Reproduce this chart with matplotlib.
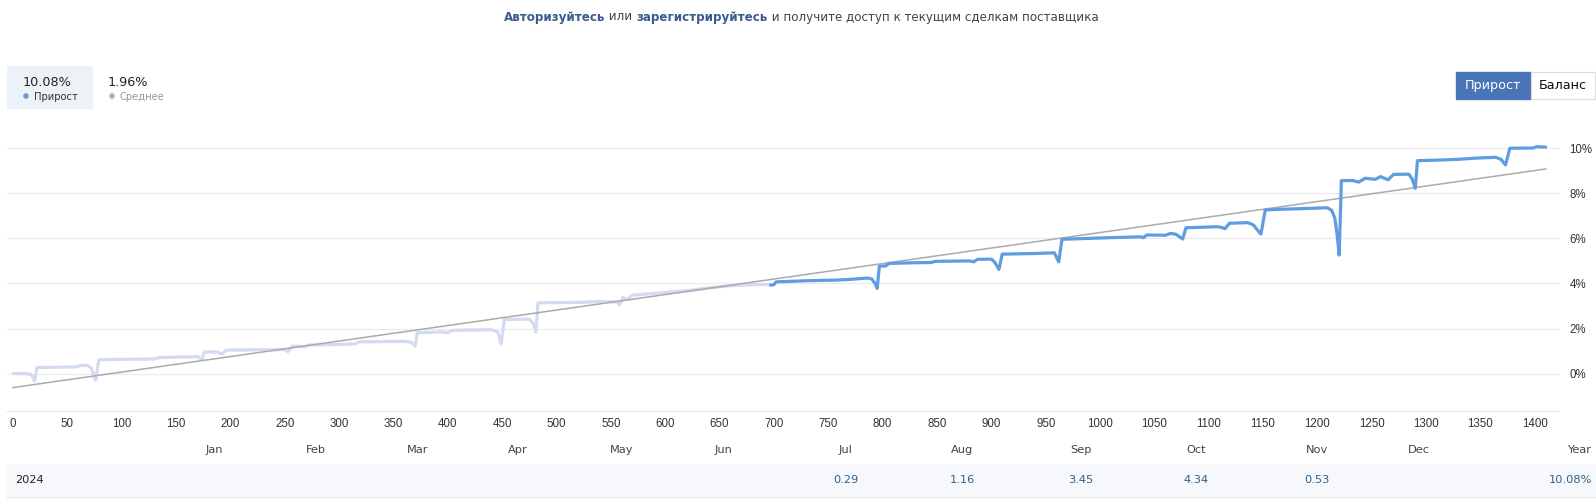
import matplotlib
matplotlib.use("Agg")
import matplotlib.pyplot as plt
from matplotlib.patches import Rectangle, Ellipse

W, H, DPI = 1596, 501, 100

# ---------------- data ----------------
light_x = [0, 12, 17, 20, 22, 40, 58, 62, 68, 72, 76, 79, 100, 130, 134, 160, 170, 174, 176,
           188, 192, 196, 230, 250, 253, 257, 265, 268, 272, 300, 315, 318, 360, 366, 370,
           372, 395, 400, 405, 440, 446, 449, 452, 475, 479, 481, 483, 520, 540, 556, 558,
           561, 565, 570, 580, 595, 620, 640, 660, 680, 697]
light_y = [0.0, 0.0, -0.05, -0.33, 0.27, 0.28, 0.30, 0.36, 0.36, 0.25, -0.30, 0.62, 0.63,
           0.65, 0.71, 0.74, 0.75, 0.62, 0.96, 0.96, 0.86, 1.04, 1.06, 1.06, 0.98, 1.21,
           1.21, 1.18, 1.27, 1.29, 1.32, 1.41, 1.43, 1.40, 1.22, 1.81, 1.85, 1.82, 1.92,
           1.95, 1.85, 1.33, 2.40, 2.42, 2.20, 1.85, 3.14, 3.16, 3.20, 3.18, 3.05, 3.38,
           3.30, 3.48, 3.52, 3.58, 3.68, 3.80, 3.90, 3.94, 3.96]

blue_x = [697, 700, 702, 730, 757, 770, 786, 790, 793, 795, 797, 803, 806, 830, 845, 848,
          880, 884, 887, 900, 903, 907, 910, 940, 958, 960, 962, 965, 990, 1007, 1038, 1040,
          1043, 1060, 1065, 1070, 1076, 1079, 1108, 1112, 1115, 1119, 1136, 1141, 1146,
          1148, 1152, 1165, 1192, 1209, 1213, 1216, 1218, 1220, 1222, 1232, 1238, 1244,
          1253, 1258, 1265, 1270, 1284, 1287, 1290, 1292, 1315, 1330, 1345, 1364, 1369,
          1373, 1377, 1398, 1402, 1410]
blue_y = [3.92, 3.95, 4.07, 4.12, 4.15, 4.18, 4.24, 4.20, 4.00, 3.78, 4.77, 4.78, 4.89,
          4.92, 4.93, 4.98, 5.00, 4.96, 5.07, 5.08, 4.95, 4.62, 5.30, 5.33, 5.36, 5.15,
          4.96, 5.96, 6.00, 6.03, 6.07, 6.03, 6.15, 6.14, 6.22, 6.18, 5.97, 6.47, 6.52,
          6.48, 6.43, 6.67, 6.70, 6.60, 6.30, 6.19, 7.26, 7.29, 7.33, 7.36, 7.25, 6.90,
          6.20, 5.26, 8.56, 8.57, 8.50, 8.67, 8.62, 8.74, 8.60, 8.84, 8.85, 8.65, 8.22,
          9.45, 9.48, 9.51, 9.56, 9.60, 9.50, 9.26, 10.00, 10.01, 10.07, 10.05]

avg_x = [0, 1410]
avg_y = [-0.62, 9.08]

x_ticks = list(range(0, 1401, 50))
y_ticks = [0, 2, 4, 6, 8, 10]
y_tick_labels = ["0%", "2%", "4%", "6%", "8%", "10%"]

months = ["Jan", "Feb", "Mar", "Apr", "May", "Jun", "Jul", "Aug", "Sep", "Oct", "Nov", "Dec"]
month_values = ["", "", "", "", "", "", "0.29", "1.16", "3.45", "4.34", "0.53", ""]
year_name = "2024"
year_total = "10.08%"
gain_total = "10.08%"
avg_total = "1.96%"

# ---------------- layout / style ----------------
BLUE = "#5f9de0"
LIGHT = "#d3dbf2"
GRAY = "#aaaaaa"
month_px = [214, 316, 418, 518, 622, 724, 846, 962, 1081, 1196, 1317, 1419]

fig = plt.figure(figsize=(W / DPI, H / DPI), dpi=DPI)
fig.patch.set_facecolor("white")


def fx(px):
    return px / W


def fy(py):
    return 1 - py / H


# ---------- title ----------
renderer = fig.canvas.get_renderer()
pieces = [("Авторизуйтесь", "bold", "#3d5b8e"), (" или ", "normal", "#444444"),
          ("зарегистрируйтесь", "bold", "#3d5b8e"),
          (" и получите доступ к текущим сделкам поставщика", "normal", "#444444")]
title_fs = 9.6
total = 0
for s, wgt, c in pieces:
    t = fig.text(0, 0, s, fontsize=title_fs, fontweight=wgt, family="DejaVu Sans")
    total += t.get_window_extent(renderer).width
    t.remove()
title_fs *= 594 / total
x = 801 - 594 / 2
for (s, wgt, c) in pieces:
    t = fig.text(fx(x), fy(17), s, fontsize=title_fs, fontweight=wgt, color=c,
                 family="DejaVu Sans", ha="left", va="center")
    x += t.get_window_extent(renderer).width

# ---------- legend box ----------
fig.patches.append(Rectangle((fx(7), fy(109)), fx(93) - fx(7), fy(66) - fy(109),
                             transform=fig.transFigure, facecolor="#edf2f9", edgecolor="none"))
fig.text(fx(23), fy(82), gain_total, fontsize=9.2, color="#222222", ha="left", va="center",
         family="DejaVu Sans")
fig.text(fx(108), fy(82), avg_total, fontsize=9.2, color="#222222", ha="left", va="center",
         family="DejaVu Sans")
fig.patches.append(Ellipse((fx(26), fy(96)), 5.6 / W, 5.6 / H, transform=fig.transFigure,
                           facecolor=BLUE, edgecolor="none"))
fig.patches.append(Ellipse((fx(112), fy(96)), 5.6 / W, 5.6 / H, transform=fig.transFigure,
                           facecolor="#b0b0b0", edgecolor="none"))
fig.text(fx(34), fy(96.5), "Прирост", fontsize=7.2, color="#333333", ha="left", va="center",
         family="DejaVu Sans")
fig.text(fx(120), fy(96.5), "Среднее", fontsize=7.2, color="#999999", ha="left", va="center",
         family="DejaVu Sans")

# ---------- buttons ----------
fig.patches.append(Rectangle((fx(1456), fy(99)), fx(1531) - fx(1456), fy(72) - fy(99),
                             transform=fig.transFigure, facecolor="#4a76b9", edgecolor="#4a76b9"))
fig.patches.append(Rectangle((fx(1531), fy(99)), fx(1595) - fx(1531), fy(72) - fy(99),
                             transform=fig.transFigure, facecolor="white", edgecolor="#dddddd",
                             linewidth=0.8))
fig.text(fx(1493), fy(85.5), "Прирост", fontsize=9.2, color="white", ha="center", va="center",
         family="DejaVu Sans")
fig.text(fx(1563), fy(85.5), "Баланс", fontsize=9.2, color="#111111", ha="center", va="center",
         family="DejaVu Sans")

# ---------- chart ----------
ax = fig.add_axes([fx(7), fy(411), fx(1559) - fx(7), fy(130) - fy(411)])
ax.set_facecolor("white")
ax.plot(light_x, light_y, color=LIGHT, lw=2.3, solid_joinstyle="round",
        solid_capstyle="round", zorder=2)
ax.plot(avg_x, avg_y, color=GRAY, lw=1.1, zorder=3)
ax.plot(blue_x, blue_y, color=BLUE, lw=2.3, solid_joinstyle="round",
        solid_capstyle="round", zorder=4)

ax.set_xlim(-5.5, 1422.2)
ax.set_ylim(-1.66, 10.81)
for s in ["top", "left", "right"]:
    ax.spines[s].set_visible(False)
ax.spines["bottom"].set_color("#e3e3e3")
ax.spines["bottom"].set_linewidth(0.8)

ax.set_xticks(x_ticks)
ax.set_xticklabels([str(v) for v in x_ticks])
ax.set_yticks(y_ticks)
ax.set_yticklabels(y_tick_labels)
ax.yaxis.tick_right()
ax.tick_params(axis="x", length=0, pad=5, labelsize=8.3, labelcolor="#333333")
ax.tick_params(axis="y", length=0, pad=7.5, labelsize=8.3, labelcolor="#333333")
for lab in ax.get_yticklabels():
    lab.set_horizontalalignment("left")
for lab in ax.get_xticklabels() + ax.get_yticklabels():
    lab.set_family(["Liberation Sans", "DejaVu Sans"])
ax.grid(axis="y", color="#ebebeb", linewidth=0.8)
ax.set_axisbelow(True)

# ---------- monthly table ----------
tfont = ["Liberation Sans Narrow", "DejaVu Sans"]
for m, px in zip(months, month_px):
    fig.text(fx(px), fy(450), m, fontsize=8.2, color="#444444", ha="center", va="center",
             family=tfont)
fig.text(fx(1591), fy(450), "Year", fontsize=8.2, color="#444444", ha="right", va="center",
         family=tfont)
fig.patches.append(Rectangle((fx(7), fy(497)), fx(1596) - fx(7), fy(464) - fy(497),
                             transform=fig.transFigure, facecolor="#f6f8fc", edgecolor="none"))
fig.lines.append(plt.Line2D([fx(7), fx(1596)], [fy(497), fy(497)], transform=fig.transFigure,
                            color="#e6e6e6", lw=0.8))
fig.text(fx(15), fy(480), year_name, fontsize=8.2, color="#222222", ha="left", va="center",
         family=tfont)
for v, px in zip(month_values, month_px):
    if v:
        fig.text(fx(px), fy(480), v, fontsize=8.2, color="#29628f", ha="center", va="center",
                 family=tfont)
fig.text(fx(1592), fy(480), year_total, fontsize=8.2, color="#29628f", ha="right", va="center",
         family=tfont)

fig.savefig("out.png", dpi=DPI, facecolor="white")
